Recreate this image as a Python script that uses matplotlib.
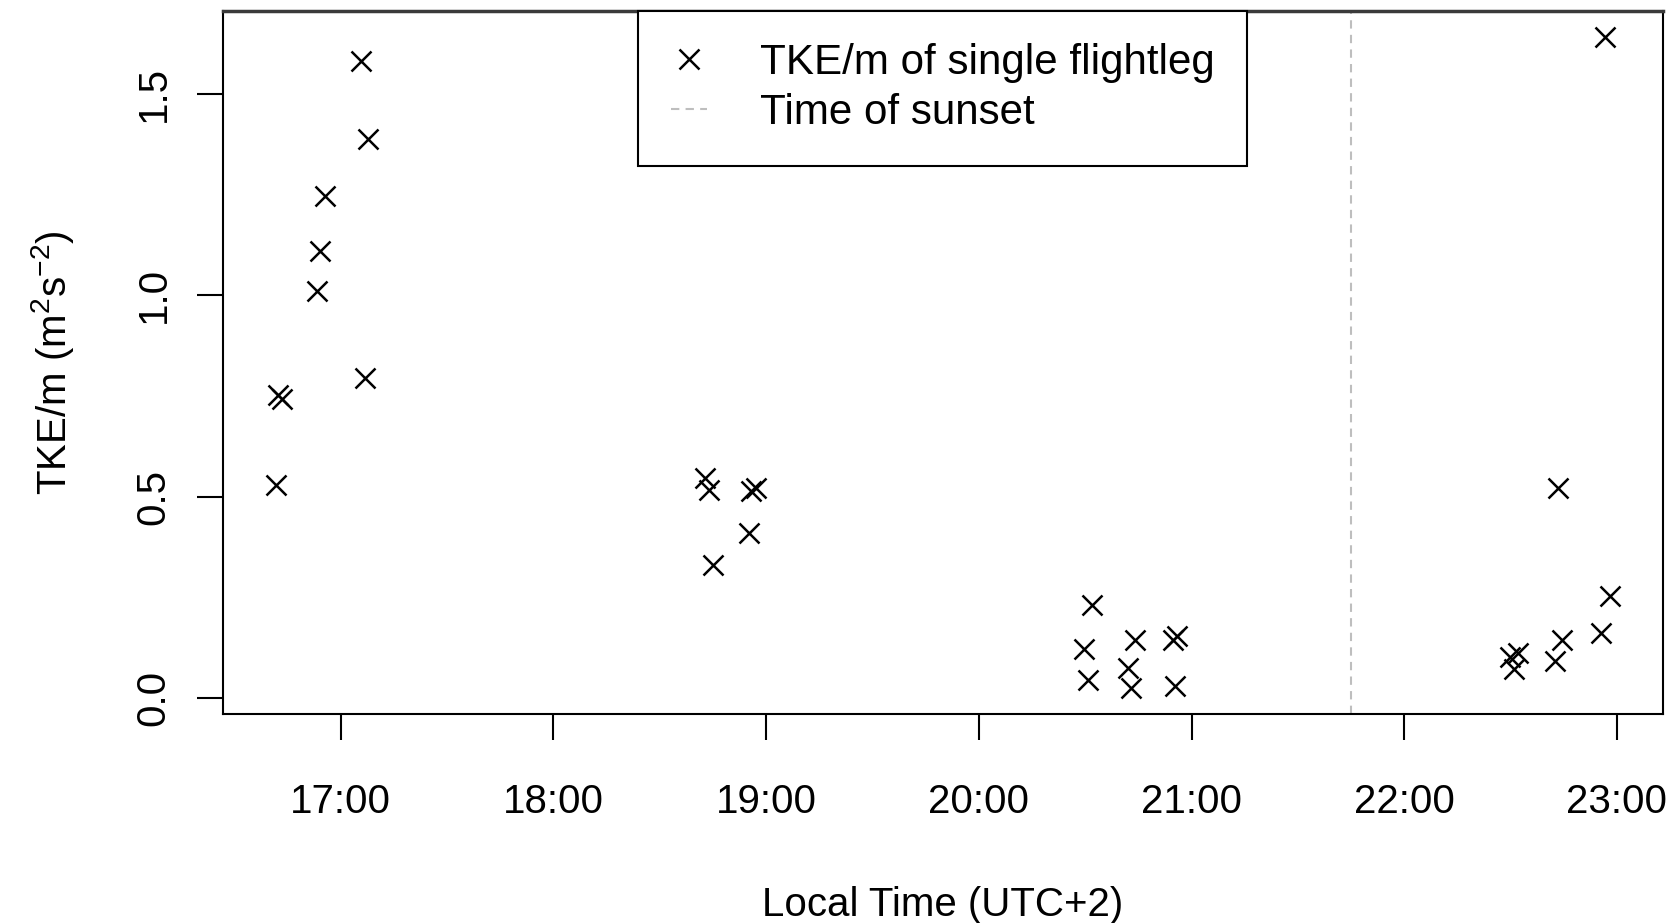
import matplotlib
matplotlib.use("Agg")
import matplotlib.pyplot as plt

plt.rcParams['font.family'] = ['Liberation Sans', 'DejaVu Sans']
plt.rcParams['mathtext.fontset'] = 'custom'
plt.rcParams['mathtext.rm'] = 'Liberation Sans'
plt.rcParams['mathtext.it'] = 'Liberation Sans:italic'

# Local time (decimal hours, UTC+2) of each flight leg
times = [16.695, 16.705, 16.726, 16.890, 16.902, 16.926, 17.093, 17.114, 17.128,
         18.712, 18.732, 18.748, 18.918, 18.931, 18.951,
         20.495, 20.514, 20.531, 20.701, 20.714, 20.733, 20.912, 20.920, 20.933,
         22.497, 22.517, 22.536, 22.708, 22.723, 22.742, 22.926, 22.942, 22.966]
# TKE per mass (m^2 s^-2)
tke = [0.528, 0.751, 0.743, 1.009, 1.109, 1.245, 1.582, 0.795, 1.388,
       0.546, 0.515, 0.331, 0.410, 0.513, 0.520,
       0.121, 0.044, 0.232, 0.075, 0.024, 0.145, 0.143, 0.030, 0.154,
       0.102, 0.073, 0.112, 0.091, 0.521, 0.145, 0.162, 1.641, 0.252]

sunset = 21.75
xticks = [17, 18, 19, 20, 21, 22, 23]
xticklabels = ["17:00", "18:00", "19:00", "20:00", "21:00", "22:00", "23:00"]
yticks = [0.0, 0.5, 1.0, 1.5]
yticklabels = ["0.0", "0.5", "1.0", "1.5"]

fig = plt.figure(figsize=(16.77, 9.23), dpi=100)
ax = fig.add_axes([0.1327, 0.226, 0.8590, 0.7624])

ax.plot(times, tke, linestyle='none', marker='x', color='black', ms=15, mew=1.8,
        label='TKE/m of single flightleg')
ax.axvline(sunset, color='#BEBEBE', lw=1.5, ls=(0, (4, 3)), label='Time of sunset')

# R-style 4% axis expansion
xr = max(times) - min(times)
yr = max(tke) - min(tke)
ax.set_xlim(min(times) - 0.04 * xr, max(times) + 0.04 * xr)
ax.set_ylim(min(tke) - 0.04 * yr, max(tke) + 0.04 * yr)

ax.set_xticks(xticks, xticklabels)
ax.set_yticks(yticks, yticklabels, rotation=90, va='center')
ax.tick_params(axis='both', direction='out', length=18.5, width=1.5, labelsize=29,
               color='black')
ax.tick_params(axis='x', pad=31)
ax.tick_params(axis='y', pad=17.5)

for s in ax.spines.values():
    s.set_linewidth(1.5)
    s.set_color('black')
ax.spines['top'].set_linewidth(2.5)
ax.spines['top'].set_color('#3a3a3a')

ax.set_xlabel('Local Time (UTC+2)', fontsize=29, va='center')
ax.xaxis.set_label_coords(0.5, -0.2706)
ax.set_ylabel(r'TKE/m (m$\mathregular{^2}$s$\mathregular{^{-2}}$)', fontsize=29, va='center')
ax.yaxis.set_label_coords(-0.1177, 0.5)

leg = ax.legend(loc='upper center', bbox_to_anchor=(0.5, 1.0), frameon=True, fancybox=False,
                edgecolor='black', framealpha=1, borderaxespad=0, fontsize=30.3,
                handlelength=0.87, handletextpad=1.25, borderpad=0.77, labelspacing=0.24)
leg.get_frame().set_linewidth(1.5)

fig.savefig('out.png', dpi=100)
